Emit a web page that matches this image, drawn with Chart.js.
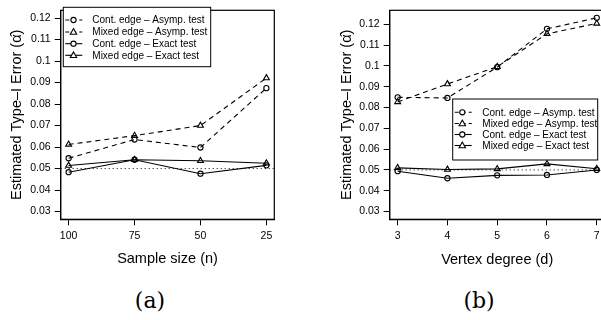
<!DOCTYPE html>
<html>
<head>
<meta charset="utf-8">
<script src="https://cdn.jsdelivr.net/npm/chart.js@4/dist/chart.umd.min.js"></script>
<style>
  html, body { margin: 0; padding: 0; background: #fff; overflow: hidden; width: 601px; height: 320px; }
  canvas { position: absolute; top: 0; }
  #chartA { left: 0; }
  #chartB { left: 300px; }
  .cap { position: absolute; top: 288px; font-family: "DejaVu Serif", serif; font-size: 22px; color: #000; transform: translateX(-50%); }
</style>
</head>
<body>
<canvas id="chartA" width="300" height="280"></canvas>
<canvas id="chartB" width="320" height="280"></canvas>
<div class="cap" style="left:150px">(a)</div>
<div class="cap" style="left:479px">(b)</div>
<script>
// Veriler (a): örneklem büyüklüğü
const sampleSizes = ['100', '75', '50', '25'];
const contAsympA  = [0.0548, 0.0635, 0.0598, 0.0874];
const mixedAsympA = [0.0612, 0.0653, 0.0700, 0.0921];
const contExactA  = [0.0483, 0.0541, 0.0476, 0.0515];
const mixedExactA = [0.0514, 0.0541, 0.0536, 0.0525];

// Veriler (b): köşe derecesi
const degrees     = ['3', '4', '5', '6', '7'];
const contAsympB  = [0.0849, 0.0846, 0.0994, 0.1178, 0.1231];
const mixedAsympB = [0.0827, 0.0913, 0.0996, 0.1154, 0.1204];
const contExactB  = [0.0494, 0.0460, 0.0474, 0.0476, 0.0500];
const mixedExactB = [0.0510, 0.0502, 0.0505, 0.0529, 0.0506];

const yTicks = [0.03, 0.04, 0.05, 0.06, 0.07, 0.08, 0.09, 0.1, 0.11, 0.12];
const nominalLevel = 0.05;

const seriesNames = [
    'Cont. edge \u2013 Asymp. test',
    'Mixed edge \u2013 Asymp. test',
    'Cont. edge \u2013 Exact test',
    'Mixed edge \u2013 Exact test'
];

const SANS = '"Liberation Sans", Arial, sans-serif';
const DASH = [5, 4];

// Seri stilleri: kesikli/düz çizgi, daire/üçgen
const styles = [
    { dash: DASH, point: 'circle', r: 2.6 },
    { dash: DASH, point: 'triangle', r: 3.4 },
    { dash: [], point: 'circle', r: 2.6 },
    { dash: [], point: 'triangle', r: 3.4 }
];

function makeDatasets(seriesList, xMin, xMax) {
    const sets = seriesList.map((vals, k) => ({
        label: seriesNames[k],
        data: vals.map((v, i) => ({ x: i + 1, y: v })),
        borderColor: '#000',
        borderWidth: 1.1,
        borderDash: styles[k].dash,
        pointStyle: styles[k].point,
        pointRadius: styles[k].r,
        pointBorderWidth: 1.1,
        pointBorderColor: '#000',
        pointBackgroundColor: 'rgba(0,0,0,0)',
        fill: false,
        tension: 0
    }));
    // 0.05 nominal seviye (noktalı çizgi)
    sets.push({
        label: 'nominal',
        data: [{ x: xMin, y: nominalLevel }, { x: xMax, y: nominalLevel }],
        borderColor: '#000',
        borderWidth: 1,
        borderDash: [1, 3],
        pointRadius: 0,
        fill: false
    });
    return sets;
}

// Çerçeve ve lejant çizimi
const framePlugin = {
    id: 'frame',
    afterDraw(chart, args, opts) {
        const { ctx, chartArea: a } = chart;
        ctx.save();
        ctx.strokeStyle = '#000';
        ctx.lineWidth = 1.2;
        ctx.setLineDash([]);
        ctx.strokeRect(a.left, a.top, a.right - a.left, a.bottom - a.top);

        const L = opts.legend;
        if (L) {
            ctx.fillStyle = '#fff';
            ctx.fillRect(L.x, L.y, L.w, L.h);
            ctx.lineWidth = 1;
            ctx.strokeRect(L.x, L.y, L.w, L.h);
            ctx.font = '10px ' + SANS;
            ctx.textBaseline = 'middle';
            ctx.textAlign = 'left';
            seriesNames.forEach((name, k) => {
                const yy = L.rows[k];
                const st = styles[k];
                ctx.strokeStyle = '#000';
                ctx.lineWidth = 1.1;
                ctx.setLineDash(st.dash.length ? [4, 3] : []);
                ctx.beginPath();
                ctx.moveTo(L.x + 2, yy);
                ctx.lineTo(L.x + 19, yy);
                ctx.stroke();
                ctx.setLineDash([]);
                ctx.fillStyle = '#fff';
                ctx.beginPath();
                const cx = L.x + L.mx;
                if (st.point === 'circle') {
                    ctx.arc(cx, yy, 2.6, 0, Math.PI * 2);
                } else {
                    ctx.moveTo(cx, yy - 3.4);
                    ctx.lineTo(cx + 3.2, yy + 2.2);
                    ctx.lineTo(cx - 3.2, yy + 2.2);
                    ctx.closePath();
                }
                ctx.fill();
                ctx.stroke();
                ctx.fillStyle = '#000';
                ctx.fillText(name, L.x + L.tx, yy + 0.5);
            });
        }
        ctx.restore();
    }
};

function makeChart(canvasId, labels, seriesList, cfg) {
    const xMin = 1 - 0.04 * (labels.length - 1);
    const xMax = labels.length + 0.04 * (labels.length - 1);
    return new Chart(document.getElementById(canvasId), {
        type: 'line',
        data: { datasets: makeDatasets(seriesList, xMin, xMax) },
        options: {
            responsive: false,
            animation: false,
            devicePixelRatio: 1,
            layout: { autoPadding: false, padding: cfg.padding },
            plugins: {
                legend: { display: false },
                tooltip: { enabled: false },
                frame: { legend: cfg.legend }
            },
            scales: {
                x: {
                    type: 'linear',
                    min: xMin,
                    max: xMax,
                    afterBuildTicks: axis => { axis.ticks = labels.map((_, i) => ({ value: i + 1 })); },
                    afterFit: s => { s.height = cfg.xHeight; },
                    ticks: {
                        autoSkip: false,
                        maxRotation: 0,
                        padding: 5,
                        color: '#000',
                        font: { family: SANS, size: 10.5 },
                        callback: v => labels[Math.round(v) - 1]
                    },
                    grid: { drawOnChartArea: false, tickLength: 6, color: '#000', lineWidth: 1 },
                    border: { display: true, color: '#000', width: 1.2 },
                    title: {
                        display: true,
                        text: cfg.xTitle,
                        color: '#000',
                        font: { family: SANS, size: 14.5 },
                        padding: { top: 0, bottom: cfg.xTitlePad }
                    }
                },
                y: {
                    type: 'linear',
                    min: cfg.yMin,
                    max: cfg.yMax,
                    afterBuildTicks: axis => { axis.ticks = yTicks.map(v => ({ value: v })); },
                    afterFit: s => { s.width = cfg.yWidth; },
                    ticks: {
                        padding: 4,
                        color: '#000',
                        font: { family: SANS, size: 10.5 },
                        callback: v => String(+v.toFixed(2))
                    },
                    grid: { drawOnChartArea: false, tickLength: 6, color: '#000', lineWidth: 1 },
                    border: { display: true, color: '#000', width: 1.2 },
                    title: {
                        display: true,
                        text: 'Estimated Type\u2013I Error (\u03B1\u0302)',
                        color: '#000',
                        font: { family: SANS, size: 14.5 },
                        padding: { top: cfg.yTitlePad, bottom: 0 }
                    }
                }
            }
        },
        plugins: [framePlugin]
    });
}

// (a) paneli
makeChart('chartA', sampleSizes, [contAsympA, mixedAsympA, contExactA, mixedExactA], {
    padding: { left: 0, top: 5, right: 25.7, bottom: 0 },
    yWidth: 60.7,
    xHeight: 60.7,
    yMin: 0.0264, yMax: 0.1236,
    xTitle: 'Sample size (n)',
    xTitlePad: 12,
    yTitlePad: 8,
    legend: { x: 63.3, y: 7.3, w: 147.4, h: 59.4, rows: [20, 32, 43.7, 55.3], mx: 10.2, tx: 29 }
});

// (b) paneli
makeChart('chartB', degrees, [contAsympB, mixedAsympB, contExactB, mixedExactB], {
    padding: { left: 0, top: 4.7, right: 15.3, bottom: 0 },
    yWidth: 89.7,
    xHeight: 60.7,
    yMin: 0.02628, yMax: 0.12672,
    xTitle: 'Vertex degree (d)',
    xTitlePad: 11.5,
    yTitlePad: 38,
    legend: { x: 152.7, y: 99, w: 145, h: 61, rows: [112.3, 123.5, 134.5, 145.5], mx: 9.6, tx: 29.6 }
});
</script>
</body>
</html>
